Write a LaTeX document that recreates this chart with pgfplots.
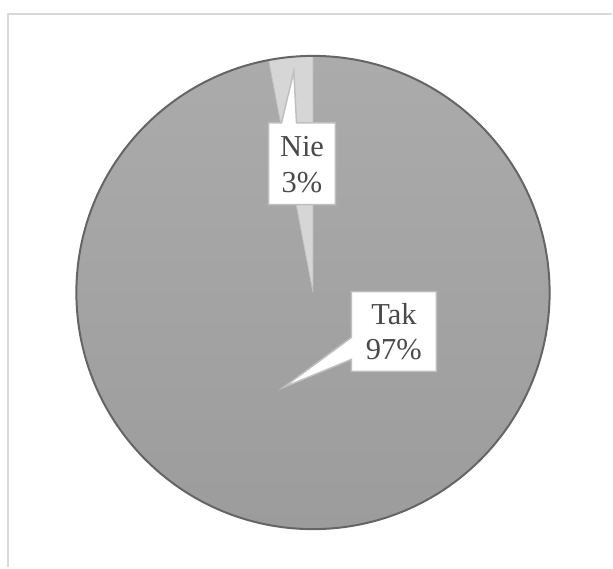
\documentclass[border=0pt]{standalone}
\usepackage{pgfplots}
\usepackage{pgfplotstable}
\pgfplotsset{compat=1.18}
\usepackage{fontspec}
\setmainfont{Liberation Serif}

\definecolor{takTop}{HTML}{ABABAB}
\definecolor{takBot}{HTML}{9C9C9C}
\definecolor{nieFill}{HTML}{D6D6D6}
\definecolor{rimCol}{HTML}{656565}
\definecolor{frameCol}{HTML}{D9D9D9}
\definecolor{boxLine}{HTML}{BFBFBF}
\definecolor{txtCol}{HTML}{4A4A4A}

\pgfplotstableread{
label value
Tak   97
Nie   3
}\piedata

\begin{document}
\begin{tikzpicture}
% angles of the slices (clockwise from 12 o'clock, like Excel)
\pgfplotstablegetelem{0}{value}\of\piedata
\pgfmathsetmacro\angEnd{90-3.6*\pgfplotsretval}
\pgfmathsetmacro\angNie{\angEnd+360}
\def\R{237pt}
\begin{axis}[
  scale only axis, width=613pt, height=568pt,
  xmin=0, xmax=613, ymin=0, ymax=568,
  hide axis, clip=false,
]
  \path (axis cs:0,0) rectangle (axis cs:613,568);
  % frame (only left and top edges visible)
  \draw[frameCol, line width=2pt] (axis cs:8,0) -- (axis cs:8,554) -- (axis cs:613,554);

  % Tak slice
  \path[top color=takTop, bottom color=takBot]
    (axis cs:313.5,275) -- ++(90:\R) arc[start angle=90, end angle=\angEnd, radius=\R] -- cycle;
  % Nie slice
  \path[fill=nieFill, draw=boxLine, line width=0.8pt]
    (axis cs:313.5,275) -- ++(\angNie:\R) arc[start angle=\angNie, end angle=90, radius=\R] -- cycle;
  % rim
  \draw[rimCol, line width=2pt] (axis cs:313.5,275) circle[radius=\R];

  % callouts
  \draw[boxLine, fill=white, line width=1.5pt, line join=miter]
    (axis cs:269,445) -- (axis cs:282,445) -- (axis cs:294.3,496.3) -- (axis cs:297,445)
    -- (axis cs:336,445) -- (axis cs:336,363) -- (axis cs:269,363) -- cycle;
  \draw[boxLine, fill=white, line width=1.5pt, line join=miter]
    (axis cs:352,276) -- (axis cs:437,276) -- (axis cs:437,196) -- (axis cs:352,196)
    -- (axis cs:352,208) -- (axis cs:284,180) -- (axis cs:352,230) -- cycle;

  \node[anchor=base, text=txtCol, font=\fontsize{30.5}{35}\selectfont, inner sep=0pt] at (axis cs:302.5,411) {Nie};
  \node[anchor=base, text=txtCol, font=\fontsize{30.5}{35}\selectfont, inner sep=0pt] at (axis cs:302.5,375) {3\%};
  \node[anchor=base, text=txtCol, font=\fontsize{30.5}{35}\selectfont, inner sep=0pt] at (axis cs:394.5,243) {Tak};
  \node[anchor=base, text=txtCol, font=\fontsize{30.5}{35}\selectfont, inner sep=0pt] at (axis cs:394.5,208) {97\%};
\end{axis}
\end{tikzpicture}
\end{document}
